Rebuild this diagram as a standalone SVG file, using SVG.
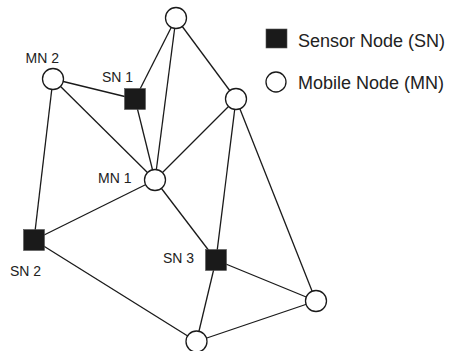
<svg xmlns="http://www.w3.org/2000/svg" width="450" height="351" viewBox="0 0 450 351">
<style>
.e{stroke:#1a1a1a;stroke-width:1.3;fill:none}
.mn{fill:#fff;stroke:#1a1a1a;stroke-width:1.3}
.sn{fill:#1a1a1a;stroke:#555;stroke-width:0.6}
.lb{font-family:"Liberation Sans",Arial,sans-serif;font-size:14px;fill:#222}
.lg{font-family:"Liberation Sans",Arial,sans-serif;font-size:18px;fill:#222}
</style>
<rect width="450" height="351" fill="#fff"/>
<g id="edges">
<line class="e" x1="176" y1="18" x2="135" y2="99"/>
<line class="e" x1="176" y1="18" x2="155" y2="180"/>
<line class="e" x1="176" y1="18" x2="236" y2="99"/>
<line class="e" x1="53" y1="79" x2="135" y2="99"/>
<line class="e" x1="53" y1="79" x2="155" y2="180"/>
<line class="e" x1="53" y1="79" x2="34" y2="240"/>
<line class="e" x1="135" y1="99" x2="155" y2="180"/>
<line class="e" x1="236" y1="99" x2="155" y2="180"/>
<line class="e" x1="236" y1="99" x2="216" y2="260"/>
<line class="e" x1="236" y1="99" x2="316" y2="301"/>
<line class="e" x1="155" y1="180" x2="34" y2="240"/>
<line class="e" x1="155" y1="180" x2="216" y2="260"/>
<line class="e" x1="34" y1="240" x2="196.5" y2="341.5"/>
<line class="e" x1="216" y1="260" x2="196.5" y2="341.5"/>
<line class="e" x1="216" y1="260" x2="316" y2="301"/>
<line class="e" x1="196.5" y1="341.5" x2="316" y2="301"/>
</g>
<g id="mn-top"><circle class="mn" cx="176" cy="18" r="10.5"/></g>
<g id="mn2"><circle class="mn" cx="53" cy="79" r="10.5"/><text class="lb" x="25.5" y="63">MN 2</text></g>
<g id="sn1"><rect class="sn" x="124.5" y="88.5" width="21" height="21"/><text class="lb" x="102" y="82">SN 1</text></g>
<g id="mn-right"><circle class="mn" cx="236" cy="99" r="10.5"/></g>
<g id="mn1"><circle class="mn" cx="155" cy="180" r="10.5"/><text class="lb" x="98" y="183">MN 1</text></g>
<g id="sn2"><rect class="sn" x="23.5" y="229.5" width="21" height="21"/><text class="lb" x="10" y="276">SN 2</text></g>
<g id="sn3"><rect class="sn" x="205.5" y="249.5" width="21" height="21"/><text class="lb" x="163" y="263">SN 3</text></g>
<g id="mn-lowright"><circle class="mn" cx="316" cy="301" r="10.5"/></g>
<g id="mn-bottom"><circle class="mn" cx="196.5" cy="341.5" r="10.5"/></g>
<g id="legend">
<rect class="sn" x="266" y="29" width="21" height="19"/>
<text class="lg" x="298" y="47">Sensor Node (SN)</text>
<circle class="mn" cx="276" cy="82" r="10"/>
<text class="lg" x="298" y="89">Mobile Node (MN)</text>
</g>
</svg>
